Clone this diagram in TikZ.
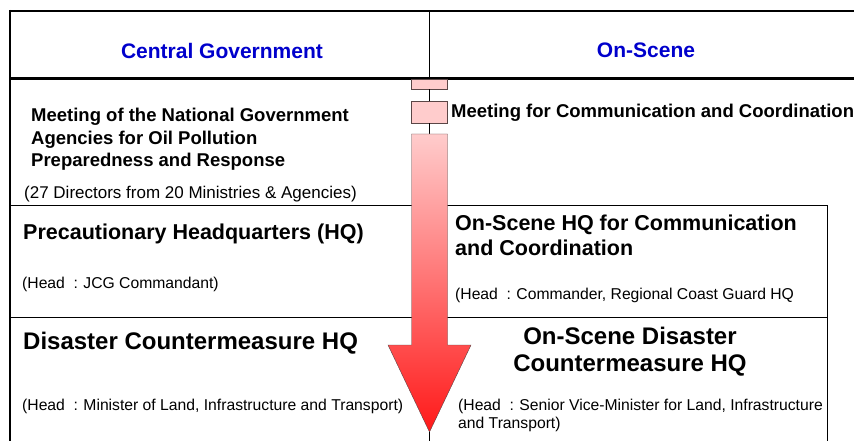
\documentclass[tikz,border=0pt]{standalone}
\usepackage{fontspec}
\setmainfont{Liberation Sans}
\definecolor{hdblue}{RGB}{0,0,204}
\definecolor{palepink}{RGB}{255,204,204}
\definecolor{arrowred}{RGB}{255,25,25}
\definecolor{edgegray}{RGB}{90,70,70}
\newcommand{\headis}{(Head\hspace{.55em}:\hspace{.35em}}

\begin{document}
\begin{tikzpicture}[x=1pt, y=-1pt,
    title/.style={anchor=north, inner sep=0pt, text=hdblue, font=\fontsize{21}{25}\selectfont\bfseries},
    mtg/.style={anchor=north west, inner sep=0pt, align=left, font=\fontsize{18.5}{22.5}\selectfont\bfseries},
    hq/.style={anchor=north west, inner sep=0pt, align=left, font=\fontsize{21.5}{25}\selectfont\bfseries},
    dhq/.style={inner sep=0pt, font=\fontsize{24}{26.5}\selectfont\bfseries},
    head/.style={anchor=north west, inner sep=0pt, align=left, font=\fontsize{15.7}{18}\selectfont},
    pinkbox/.style={draw=edgegray, fill=palepink, minimum width=36pt, inner sep=0pt}]
  \useasboundingbox (0, 0) rectangle (854, 441);
  % frame and rules
  \draw[line width=2pt] (10, 11) -- (854, 11);
  \draw[line width=3pt] (10, 79) -- (854, 79);
  \draw[line width=1.5pt] (10, 10) -- (10, 441);
  \draw (10, 205) -- (827, 205);
  \draw (10, 317) -- (827, 317);
  \draw (827, 205) -- (827, 441);
  % column titles
  \draw (222, 43) node[title](cg){Central Government} ;
  \draw (646, 43) node[title](os){On-Scene} ;
  % escalation arrow
  \coordinate (div) at (429.5, 11);
  \coordinate (btop) at (429.5, 134);
  \coordinate (tip) at (429.5, 432);
  \coordinate (bot) at (429.5, 441);
  \draw (429.5, 84) node[pinkbox, minimum height=10pt](m1){} ;
  \draw (429.5, 112) node[pinkbox, minimum height=22pt](m2){} ;
  \draw (div) -- (m1) ;
  \draw (m1) -- (m2) ;
  \draw (m2) -- (btop) ;
  \shadedraw[draw=edgegray, top color=palepink, bottom color=arrowred]
    (411.5, 134) -- (447.5, 134) -- (447.5, 345) -- (471, 345) -- (tip)
    -- (388, 345) -- (411.5, 345) -- cycle;
  \draw (tip) -- (bot) ;
  % left column
  \draw (31, 108) node[mtg](ngm){Meeting of the National Government\\Agencies for Oil Pollution\\Preparedness and Response} ;
  \draw (24, 186) node[head, font=\fontsize{17}{20}\selectfont](ngmn){(27 Directors from 20 Ministries \& Agencies)} ;
  \draw (23, 224) node[hq](phq){Precautionary Headquarters (HQ)} ;
  \draw (22, 277) node[head](phqh){\headis JCG Commandant)} ;
  \draw (23, 332) node[dhq, anchor=north west](dchq){Disaster Countermeasure HQ} ;
  \draw (22, 399) node[head](dchqh){\headis Minister of Land, Infrastructure and Transport)} ;
  % right column
  \draw (451, 104) node[mtg](mcc){Meeting for Communication and Coordination} ;
  \draw (455, 215) node[hq](oshq){On-Scene HQ for Communication\\and Coordination} ;
  \draw (455, 288) node[head](oshqh){\headis Commander, Regional Coast Guard HQ} ;
  \draw (630, 327) node[dhq, anchor=north, align=center](osdc){On-Scene Disaster\\Countermeasure HQ} ;
  \draw (458, 399) node[head](osdch){\headis Senior Vice-Minister for Land, Infrastructure\\and Transport)} ;
\end{tikzpicture}
\end{document}
